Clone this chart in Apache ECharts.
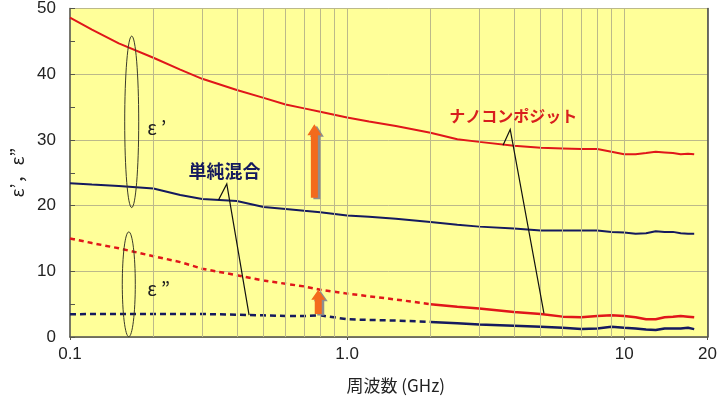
<!DOCTYPE html>
<html><head><meta charset="utf-8">
<script src="https://cdn.jsdelivr.net/npm/echarts@6/dist/echarts.min.js"></script>
<style>html,body{margin:0;padding:0;background:#fff}#c{width:720px;height:403px}</style>
</head><body><div id="c"></div>
<script>
// Frequency (GHz)
const freq = [0.1,0.12,0.15,0.2,0.25,0.3,0.4,0.5,0.6,0.7,0.8,1.0,1.2,1.5,2.0,2.5,3.0,4.0,5.0,6.0,7.0,8.0,9.0,10,11,12,13,14,15,16,17,17.9];
// ナノコンポジット ε'
const nanoEps1 = [48.6,46.8,44.7,42.5,40.7,39.3,37.6,36.4,35.4,34.8,34.3,33.4,32.8,32.1,31.1,30.1,29.7,29.1,28.8,28.7,28.6,28.6,28.2,27.8,27.8,28.0,28.2,28.1,28.0,27.8,27.9,27.8];
// 単純混合 ε'
const mixEps1 = [23.4,23.2,23.0,22.6,21.6,21.0,20.7,19.8,19.5,19.2,19.0,18.5,18.3,18.0,17.5,17.1,16.8,16.5,16.2,16.2,16.2,16.2,16.0,15.9,15.7,15.8,16.1,16.0,16.0,15.8,15.7,15.7];
// ナノコンポジット ε''
const nanoEps2 = [15.0,14.3,13.5,12.3,11.4,10.4,9.4,8.6,8.1,7.7,7.2,6.6,6.2,5.7,5.0,4.6,4.35,3.8,3.5,3.1,3.0,3.2,3.3,3.2,3.0,2.7,2.7,3.0,3.1,3.2,3.1,3.0];
// 単純混合 ε''
const mixEps2 = [3.45,3.5,3.5,3.5,3.5,3.5,3.4,3.3,3.2,3.2,3.3,2.7,2.6,2.5,2.3,2.1,1.9,1.7,1.55,1.4,1.2,1.3,1.55,1.4,1.3,1.15,1.05,1.3,1.3,1.3,1.4,1.2];
// minor grid frequencies
const gridFreq = [0.2,0.3,0.4,0.5,0.6,0.7,0.8,0.9,1,2,3,4,5,6,7,8,9,10];
const dashEnd = 2.0;

const RED = '#E0161A', NAVY = '#151A5E', GRIDC = '#BCB98A', ORANGE = '#F36A1C';
const FONT = '"Liberation Sans", Arial, sans-serif';
const CJK = '"Noto Sans CJK JP", "Liberation Sans", sans-serif';

const pairs = a => freq.map((f,i)=>[f,a[i]]);
const dashedPart = a => pairs(a).filter(p=>p[0] <= dashEnd);
const solidPart = a => pairs(a).filter(p=>p[0] >= dashEnd);

const chart = echarts.init(document.getElementById('c'), null, {renderer:'canvas'});
const lineBase = {type:'line', showSymbol:false, symbol:'none', animation:false, silent:true};
chart.setOption({
  animation:false,
  grid:{left:68,right:12,top:7,bottom:66,show:true,backgroundColor:'#FFFF99',borderColor:'#C8C8C0',borderWidth:1},
  xAxis:{type:'log',logBase:10,min:0.1,max:20,
    axisLine:{lineStyle:{color:'#55554A',width:1.5}},
    axisTick:{show:true,length:3,lineStyle:{color:'#55554A'}},
    splitLine:{show:false},
    axisLabel:{fontSize:17,color:'#222',fontFamily:FONT,margin:9,showMinLabel:true,showMaxLabel:true,
      formatter:v=>{ if (Math.abs(v-1)<1e-9) return '1.0'; if (Math.abs(v-0.1)<1e-9) return '0.1'; return String(Math.round(v)); }},
    name:'周波数 (GHz)',nameLocation:'middle',nameGap:40,
    nameTextStyle:{fontSize:17,color:'#222',fontFamily:CJK,padding:[0,0,0,14]}
  },
  yAxis:[{type:'value',min:0,max:50,interval:10,
    axisLine:{show:true,lineStyle:{color:'#55554A',width:1.5}},
    axisTick:{show:true,inside:true,length:5,lineStyle:{color:'#55554A'}},
    minorTick:{show:true,splitNumber:2,length:5,lineStyle:{color:'#55554A'}},
    splitLine:{show:true,lineStyle:{color:GRIDC,width:1}},
    axisLabel:{fontSize:17,color:'#222',fontFamily:FONT,margin:14},
    name:'ε’，ε”',nameLocation:'middle',nameGap:44,nameRotate:90,
    nameTextStyle:{fontSize:18,color:'#222',fontFamily:CJK}
  },{type:'value',min:0,max:50,position:'right',
    axisLine:{show:true,lineStyle:{color:'#44443A',width:1.5}},
    axisTick:{show:false},axisLabel:{show:false},splitLine:{show:false}}],
  series:[
    Object.assign({},lineBase,{name:'grid',data:[],z:1,
      markLine:{silent:true,symbol:['none','none'],animation:false,label:{show:false},
        lineStyle:{color:GRIDC,width:1,type:'solid'},
        data:gridFreq.map(f=>({xAxis:f}))}}),
    Object.assign({},lineBase,{name:'nano1',data:pairs(nanoEps1),lineStyle:{color:RED,width:2}}),
    Object.assign({},lineBase,{name:'mix1',data:pairs(mixEps1),lineStyle:{color:NAVY,width:2}}),
    Object.assign({},lineBase,{name:'nano2d',data:dashedPart(nanoEps2),lineStyle:{color:RED,width:2.5,type:[5,4]}}),
    Object.assign({},lineBase,{name:'nano2s',data:solidPart(nanoEps2),lineStyle:{color:RED,width:2.5}}),
    Object.assign({},lineBase,{name:'mix2d',data:dashedPart(mixEps2),lineStyle:{color:NAVY,width:2.5,type:[6,4]}}),
    Object.assign({},lineBase,{name:'mix2s',data:solidPart(mixEps2),lineStyle:{color:NAVY,width:2.5}})
  ]
});

// Annotation anchors in data coordinates [GHz, value]
const ell1 = {top:[0.167,45.8], bottom:[0.167,19.7], rx:7};
const ell2 = {top:[0.163,16.0], bottom:[0.163,0.05], rx:6.5};
const txtEps1 = [0.19,31.8], txtEps2 = [0.19,7.4];
const mixLabel = [0.268,25.3], mixVertex=[0.368,23.3], mixEnd1=[0.3435,20.86], mixEnd2=[0.443,3.33];
const nanoLabel = [2.34,33.6], nanoVertex=[3.88,31.6], nanoEnd1=[3.655,29.2], nanoEnd2=[5.135,3.6];
const arrowBig = {x:0.762, tip:32.4, base:21.2};
const arrowSmall = {x:0.787, tip:7.2, base:3.5};

const px = p => chart.convertToPixel({gridIndex:0}, p);
function ellipse(e){
  const t = px(e.top), b = px(e.bottom);
  return {type:'ellipse',silent:true,z:50,shape:{cx:t[0],cy:(t[1]+b[1])/2,rx:e.rx,ry:(b[1]-t[1])/2},
    style:{fill:'none',stroke:'#3A3A2A',lineWidth:1}};
}
function text(p,str,color,size,bold,font){
  const q = px(p);
  return {type:'text',silent:true,z:60,x:q[0],y:q[1],style:{text:str,fill:color,fontSize:size,fontWeight:bold?'bold':'normal',fontFamily:font,verticalAlign:'middle',align:'left'}};
}
function leader(a,v,b){
  return {type:'polyline',silent:true,z:55,shape:{points:[px(a),px(v),px(b)]},style:{stroke:'#111',lineWidth:1.2,fill:'none'}};
}
function arrow(a,sw,hw,hh){
  const t = px([a.x,a.tip]), b = px([a.x,a.base]);
  const x=t[0], yt=t[1], yb=b[1];
  const pts = (dx,dy)=>[[x+dx,yt+dy],[x+hw/2+dx,yt+hh+dy],[x+sw/2+dx,yt+hh+dy],[x+sw/2+dx,yb+dy],[x-sw/2+dx,yb+dy],[x-sw/2+dx,yt+hh+dy],[x-hw/2+dx,yt+hh+dy]];
  return [
    {type:'polygon',silent:true,z:56,shape:{points:pts(2.5,1.5)},style:{fill:'#8E8E8E'}},
    {type:'polygon',silent:true,z:57,shape:{points:pts(0,0)},style:{fill:ORANGE}}
  ];
}
chart.setOption({graphic:[
  ellipse(ell1), ellipse(ell2),
  text(txtEps1,'ε ’','#222',19,false,CJK),
  text(txtEps2,'ε ”','#222',19,false,CJK),
  text(mixLabel,'単純混合',NAVY,18,true,CJK),
  text(nanoLabel,'ナノコンポジット','#D81E1E',16,true,CJK),
  leader(mixEnd1,mixVertex,mixEnd2),
  leader(nanoEnd1,nanoVertex,nanoEnd2),
  ...arrow(arrowBig,7,14,11),
  ...arrow(arrowSmall,7,14,10)
]});
</script></body></html>
